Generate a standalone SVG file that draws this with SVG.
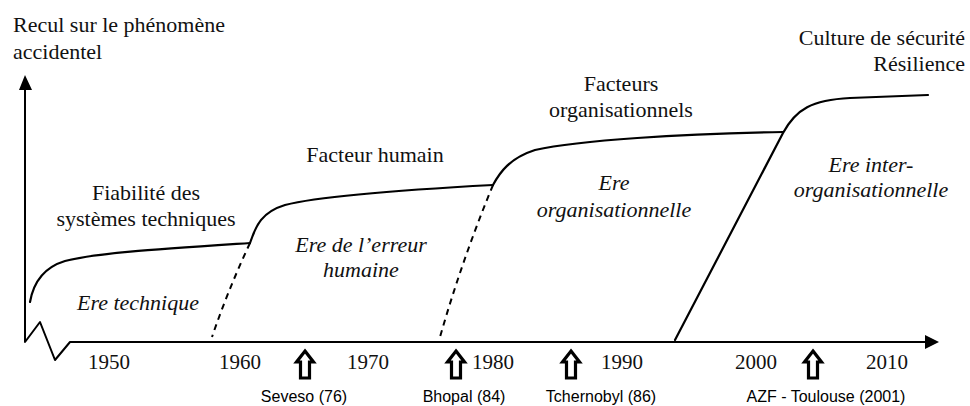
<svg xmlns="http://www.w3.org/2000/svg" width="970" height="406" viewBox="0 0 970 406">
<style>
.t{font-family:"Liberation Serif","Times New Roman",serif;font-size:22px;fill:#111}
.c{text-anchor:middle}
.i{font-style:italic}
.y{font-family:"Liberation Serif","Times New Roman",serif;font-size:21px;fill:#111;text-anchor:middle}
.e{font-family:"Liberation Sans",Arial,sans-serif;font-size:16px;fill:#000;text-anchor:middle}
.ln{fill:none;stroke:#000;stroke-width:2;stroke-linejoin:round}
.cv{fill:none;stroke:#000;stroke-width:2.2;stroke-linecap:round}
.ds{fill:none;stroke:#000;stroke-width:2;stroke-dasharray:6 5}
.ar{fill:#fff;stroke:#000;stroke-width:3.2;stroke-linejoin:miter}
</style>
<defs>
<path id="evt" d="M0,0 L8.5,11 L4.5,11 L4.5,27 L-4.5,27 L-4.5,11 L-8.5,11 Z"/>
</defs>
<rect width="970" height="406" fill="#fff"/>
<g id="axes">
<path class="ln" d="M25,89 L25,342 L40,322 L55,360 L70,342 L926,342"/>
<path d="M25,75 L19,90 L32,90 Z" fill="#000"/>
<path d="M939,342 L925,335 L925,349 Z" fill="#000"/>
</g>
<g id="connectors">
<path class="cv" d="M30,302 C33,285 42,268 65,261 C95,253 160,249 250,243"/>
<path class="cv" d="M250,243 C256,225 262,212 285,205 C320,196 400,190 493,185"/>
<path class="cv" d="M493,185 C500,172 510,158 535,150 C580,140 680,134 783,132"/>
<path class="cv" d="M675,340 Q740,215 783,133 C796,109 812,100 850,98 C880,97 905,96 928,95"/>
<path class="ds" d="M250,243 Q228,290 212,337"/>
<path class="ds" d="M493,185 Q462,260 440,337"/>
</g>
<g id="axis-title">
<text class="t" x="13" y="32">Recul sur le phénomène</text>
<text class="t" x="13" y="59">accidentel</text>
</g>
<g id="culture">
<text class="t" x="965" y="45" text-anchor="end">Culture de sécurité</text>
<text class="t" x="965" y="71" text-anchor="end">Résilience</text>
</g>
<g id="fiabilite">
<text class="t c" x="146" y="200">Fiabilité des</text>
<text class="t c" x="146" y="226">systèmes techniques</text>
</g>
<g id="facteur-humain">
<text class="t c" x="375" y="162">Facteur humain</text>
</g>
<g id="facteurs-org">
<text class="t c" x="621" y="91">Facteurs</text>
<text class="t c" x="621" y="117">organisationnels</text>
</g>
<g id="ere-technique">
<text class="t i" x="77" y="310">Ere technique</text>
</g>
<g id="ere-erreur">
<text class="t i c" x="361" y="252">Ere de l’erreur</text>
<text class="t i c" x="361" y="277">humaine</text>
</g>
<g id="ere-org">
<text class="t i c" x="614" y="190">Ere</text>
<text class="t i c" x="614" y="217">organisationnelle</text>
</g>
<g id="ere-inter">
<text class="t i c" x="871" y="172">Ere inter-</text>
<text class="t i c" x="871" y="197">organisationnelle</text>
</g>
<g id="years">
<text class="y" x="109" y="369">1950</text>
<text class="y" x="240" y="369">1960</text>
<text class="y" x="368" y="369">1970</text>
<text class="y" x="493" y="369">1980</text>
<text class="y" x="622" y="369">1990</text>
<text class="y" x="756" y="369">2000</text>
<text class="y" x="887" y="369">2010</text>
</g>
<g id="seveso">
<use href="#evt" class="ar" transform="translate(305,351)"/>
<text class="e" x="304" y="402">Seveso (76)</text>
</g>
<g id="bhopal">
<use href="#evt" class="ar" transform="translate(456,351)"/>
<text class="e" x="464" y="402">Bhopal (84)</text>
</g>
<g id="tchernobyl">
<use href="#evt" class="ar" transform="translate(571,351)"/>
<text class="e" x="601" y="402">Tchernobyl (86)</text>
</g>
<g id="azf">
<use href="#evt" class="ar" transform="translate(813,351)"/>
<text class="e" x="826" y="402">AZF - Toulouse (2001)</text>
</g>
</svg>
